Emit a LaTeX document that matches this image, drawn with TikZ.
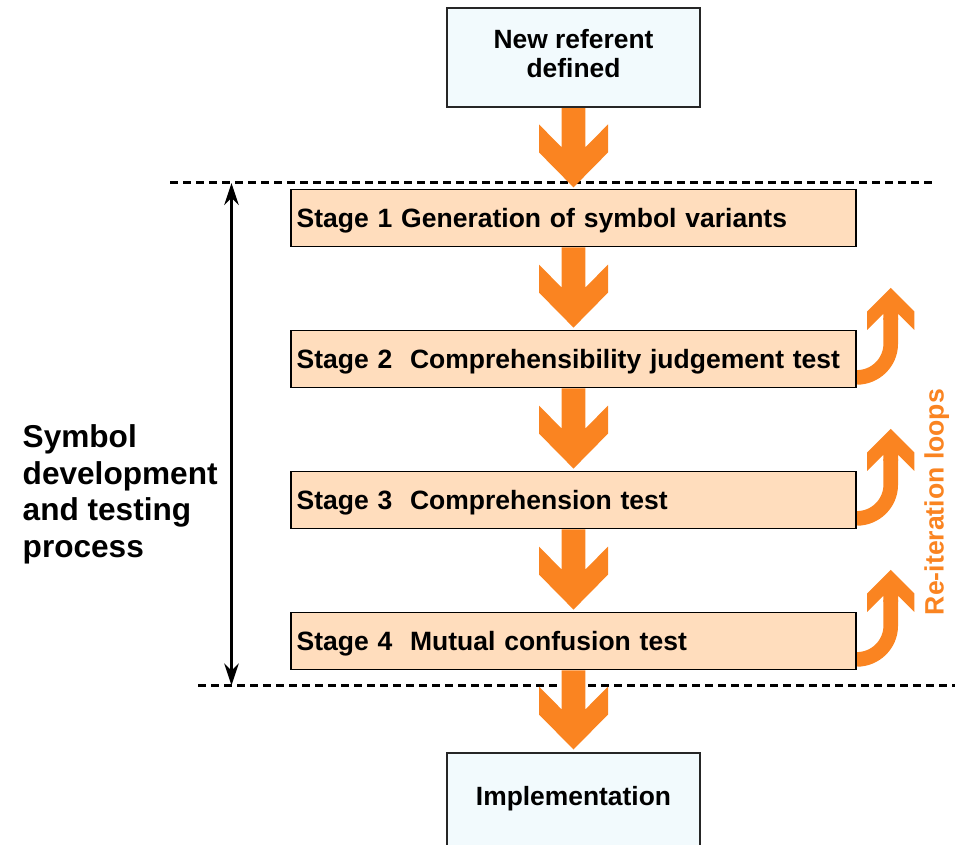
\documentclass[tikz,border=0pt]{standalone}
\usepackage{fontspec}
\setmainfont{Liberation Sans}
\usetikzlibrary{calc,arrows.meta}
\definecolor{arrorange}{RGB}{250,132,33}
\definecolor{peach}{RGB}{255,221,189}
\definecolor{paleblue}{RGB}{242,250,253}
\tikzset{
  stagebox/.style={draw=black, line width=1.8pt, fill=peach, minimum width=565pt, minimum height=57pt,
    text width=553.6pt, align=left, inner xsep=5.7pt, inner ysep=0pt, text height=19pt, text depth=0pt,
    font=\bfseries\fontsize{26.5}{29}\selectfont},
  endbox/.style={draw=black!85, line width=1.5pt, fill=paleblue, minimum width=253pt, inner sep=0pt},
  divline/.style={draw=black, line width=3pt, dash pattern=on 8pt off 5pt},
  bigarrowfill/.style={fill=arrorange},
}
% big chevron arrow from coordinate #1 (start of shaft) to tip #2
\newcommand{\bigarr}[2]{%
  \fill[bigarrowfill] ($(#1)+(-11.8,0)$) -- ($(#2)+(-11.8,-40)$) -- ($(#2)+(-34.5,-63)$)
    -- ($(#2)+(-34.5,-35)$) -- (#2) -- ($(#2)+(34.5,-35)$) -- ($(#2)+(34.5,-63)$)
    -- ($(#2)+(11.8,-40)$) -- ($(#1)+(11.8,0)$) -- cycle;}
% re-iteration loop arrow starting at the right edge of node #1
\newcommand{\looparr}[1]{%
  \coordinate (#1L) at ($(#1.south east)+(0,-11)$);
  \coordinate (#1T) at ($(#1L)+(33.8,-89.5)$);
  \draw[arrorange, line width=14.6pt] (#1L) .. controls ($(#1L)+(18.5,0)$) and ($(#1L)+(33.8,-15)$)
    .. ($(#1L)+(33.8,-33.5)$) -- ($(#1T)+(0,30)$);
  \fill[bigarrowfill] (#1T) -- ($(#1T)+(23.6,23.6)$) -- ($(#1T)+(23.6,42)$) -- ($(#1T)+(7.3,25.7)$)
    -- ($(#1T)+(7.3,32)$) -- ($(#1T)+(-7.3,32)$) -- ($(#1T)+(-7.3,25.7)$) -- ($(#1T)+(-23.6,42)$)
    -- ($(#1T)+(-23.6,23.6)$) -- cycle;}
\begin{document}
\begin{tikzpicture}[x=1pt,y=-1pt]
\useasboundingbox (0,0) rectangle (959,845);
\clip (0,0) rectangle (959,845);
% dashed divider lines
\coordinate (dtl) at (170,183);
\coordinate (dtr) at (936,183);
\coordinate (dbl) at (198,685.5);
\coordinate (dbr) at (955,685.5);
\draw[divline] (dtl) -- (dtr);
\draw[divline] (dbl) -- (dbr);
% double arrow
\coordinate (vtop) at (231.5,183);
\coordinate (vbot) at (231.5,685.5);
\draw[{Stealth[length=22pt,width=14.5pt]}-{Stealth[length=22pt,width=14.5pt]}, line width=2.3pt] (vtop) -- (vbot);
% boxes (placed, drawn later on top)
\path (573.5,57.7) node[endbox, minimum height=99pt] (topbox) {};
\path (573.5,218) node[stagebox] (s1) {Stage 1 Generation of symbol variants};
\path (573.5,359) node[stagebox] (s2) {Stage 2\ \ Comprehensibility judgement test};
\path (573.5,500) node[stagebox] (s3) {Stage 3\ \ Comprehension test};
\path (573.5,641) node[stagebox] (s4) {Stage 4\ \ Mutual confusion test};
% arrows
\coordinate (a0t) at ($(s1.north)+(0,-1.2)$);
\coordinate (a1t) at ($(s2.north)+(0,-2)$);
\coordinate (a2t) at ($(s3.north)+(0,-2)$);
\coordinate (a3t) at ($(s4.north)+(0,-2)$);
\coordinate (a4t) at (573.5,749.5);
\bigarr{topbox.south}{a0t}
\bigarr{s1.south}{a1t}
\bigarr{s2.south}{a2t}
\bigarr{s3.south}{a3t}
\bigarr{s4.south}{a4t}
\looparr{s2}
\looparr{s3}
\looparr{s4}
% redraw boxes on top
\path (573.5,57.7) node[endbox, minimum height=99pt] {};
\node[anchor=north, align=center, inner sep=0pt, font=\bfseries\fontsize{26.4}{29}\selectfont] (toptext) at (573.5,29.3) {New referent\\defined};
\path (573.5,218) node[stagebox] {Stage 1 Generation of symbol variants};
\path (573.5,359) node[stagebox] {Stage 2\ \ Comprehensibility judgement test};
\path (573.5,500) node[stagebox] {Stage 3\ \ Comprehension test};
\path (573.5,641) node[stagebox] {Stage 4\ \ Mutual confusion test};
\node[endbox, anchor=base, text height=52pt, text depth=70pt, font=\bfseries\fontsize{26.4}{29}\selectfont] (impl) at (573.5,805) {Implementation};
% left label
\node[anchor=north west, align=left, inner sep=0pt, font=\bfseries\fontsize{31.6}{36.5}\selectfont] (sdtp) at (22.5,424.6) {Symbol\\development\\and testing\\process};
% rotated label
\node[anchor=base, rotate=90, inner sep=0pt, text=arrorange, font=\bfseries\fontsize{26.6}{29}\selectfont] (reit) at (943.5,502) {Re-iteration loops};
\end{tikzpicture}
\end{document}
